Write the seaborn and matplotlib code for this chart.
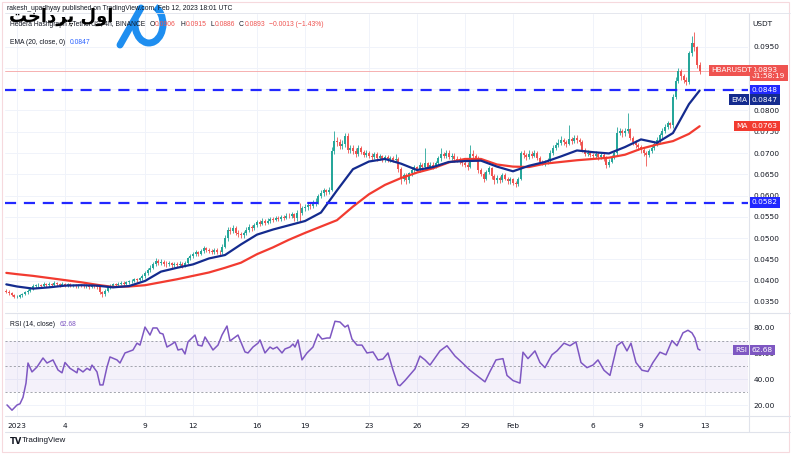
import numpy as np
import pandas as pd
import matplotlib
matplotlib.use("Agg")
import matplotlib.pyplot as plt
import matplotlib.dates as mdates
from matplotlib.patches import Arc, Rectangle
import seaborn as sns

# HBAR / USDT, 4h candles, prices in units of 0.0001 USDT
first_open = 376
closes = [
    374, 370, 366, 362,                 # Dec 31 (08h..20h)
    362, 365, 368, 372, 376, 380,       # Jan 1
    386, 389, 390, 387, 391, 389,       # Jan 2
    392, 390, 394, 391, 389, 392,       # Jan 3
    389, 391, 388, 390, 387, 389,       # Jan 4
    388, 386, 389, 385, 387, 386,       # Jan 5
    384, 372, 368, 376, 384, 388,       # Jan 6
    391, 389, 393, 395, 392, 396,       # Jan 7
    398, 400, 403, 401, 405, 410,       # Jan 8
    418, 425, 430, 438, 445, 442,       # Jan 9
    444, 440, 438, 441, 436, 439,       # Jan 10
    437, 440, 435, 442, 452, 458,       # Jan 11
    462, 466, 463, 470, 476, 472,       # Jan 12
    470, 467, 472, 468, 466, 480,       # Jan 13
    500, 520, 516, 524, 513, 509,       # Jan 14
    506, 512, 520, 526, 523, 530,       # Jan 15
    538, 534, 541, 536, 540, 544,       # Jan 16
    542, 547, 545, 550, 548, 553,       # Jan 17
    551, 556, 546, 560, 558, 570,       # Jan 18
    572, 578, 575, 582, 585, 598,       # Jan 19
    606, 612, 609, 614, 705, 728,       # Jan 20
    726, 717, 722, 740, 706, 712,       # Jan 21
    705, 698, 712, 702, 696, 700,       # Jan 22
    694, 690, 697, 688, 692, 686,       # Jan 23
    690, 685, 688, 684, 686, 662,       # Jan 24
    640, 648, 636, 652, 660, 666,       # Jan 25
    662, 672, 666, 676, 668, 672,       # Jan 26
    670, 676, 688, 698, 693, 700,       # Jan 27
    690, 694, 686, 684, 680, 676,       # Jan 28
    672, 668, 698, 694, 688, 660,       # Jan 29
    650, 640, 655, 665, 645, 636,       # Jan 30
    642, 636, 648, 640, 634, 638,       # Jan 31
    630, 626, 640, 700, 696, 690,       # Feb 1
    698, 694, 700, 688, 680, 676,       # Feb 2
    678, 682, 700, 712, 720, 724,       # Feb 3
    730, 726, 722, 734, 728, 736,       # Feb 4
    730, 725, 708, 698, 700, 695,       # Feb 5
    692, 698, 690, 696, 688, 672,       # Feb 6
    680, 690, 700, 748, 752, 746,       # Feb 7
    752, 756, 736, 726, 718, 714,       # Feb 8
    706, 700, 696, 704, 712, 722,       # Feb 9
    730, 742, 752, 761, 770, 765,       # Feb 10
    832, 870, 892, 880, 872, 866,       # Feb 11
    935, 958, 950, 906, 893,            # Feb 12 (00h..16h)
]
highs = [
    380, 377, 372, 369,
    366, 368, 371, 375, 379, 384,
    391, 393, 395, 393, 396, 394,
    396, 395, 398, 397, 394, 396,
    395, 394, 394, 393, 393, 392,
    392, 391, 392, 392, 390, 390,
    389, 387, 375, 379, 387, 392,
    395, 394, 397, 399, 398, 400,
    402, 404, 407, 406, 409, 415,
    423, 430, 436, 444, 452, 450,
    450, 448, 445, 446, 444, 443,
    443, 445, 443, 446, 456, 463,
    467, 471, 470, 475, 482, 479,
    477, 475, 477, 476, 472, 485,
    506, 527, 526, 531, 528, 518,
    515, 517, 525, 532, 531, 535,
    543, 542, 546, 545, 546, 550,
    549, 552, 551, 555, 554, 558,
    558, 561, 560, 566, 582, 576,
    580, 585, 583, 590, 593, 603,
    612, 618, 616, 620, 715, 752,
    738, 733, 730, 746, 748, 720,
    718, 712, 718, 716, 706, 707,
    704, 700, 702, 702, 698, 696,
    696, 695, 694, 692, 698, 690,
    666, 654, 652, 656, 665, 672,
    670, 678, 676, 712, 680, 678,
    678, 682, 694, 712, 703, 706,
    706, 700, 699, 692, 690, 686,
    682, 678, 718, 706, 698, 692,
    664, 656, 660, 670, 668, 650,
    648, 646, 652, 652, 644, 643,
    642, 634, 644, 705, 706, 700,
    706, 704, 706, 704, 692, 684,
    684, 688, 706, 718, 726, 732,
    740, 736, 730, 765, 738, 742,
    742, 736, 730, 712, 706, 704,
    700, 704, 702, 702, 700, 692,
    686, 696, 706, 762, 758, 756,
    760, 793, 760, 740, 730, 724,
    718, 712, 704, 710, 718, 728,
    738, 748, 758, 768, 776, 774,
    838, 878, 900, 898, 886, 878,
    940, 975, 984, 952, 915,
]
lows = [
    371, 366, 363, 358,
    358, 359, 362, 365, 369, 373,
    377, 383, 385, 383, 384, 385,
    385, 386, 387, 387, 385, 386,
    385, 385, 384, 384, 383, 383,
    384, 382, 383, 381, 382, 382,
    380, 368, 362, 364, 372, 380,
    385, 385, 386, 389, 388, 389,
    392, 394, 396, 397, 398, 401,
    406, 414, 420, 426, 434, 436,
    436, 435, 432, 434, 430, 432,
    432, 433, 430, 431, 438, 448,
    453, 457, 458, 459, 465, 467,
    465, 462, 463, 463, 460, 462,
    476, 494, 510, 511, 508, 503,
    500, 501, 507, 515, 517, 518,
    525, 528, 530, 531, 532, 535,
    537, 539, 540, 541, 543, 544,
    546, 546, 540, 541, 540, 554,
    564, 566, 568, 570, 576, 580,
    594, 600, 602, 603, 610, 698,
    716, 710, 710, 715, 700, 700,
    698, 690, 694, 697, 690, 690,
    688, 683, 686, 682, 684, 680,
    680, 680, 679, 678, 680, 655,
    628, 634, 626, 630, 645, 654,
    655, 656, 660, 660, 662, 662,
    663, 664, 670, 682, 688, 688,
    685, 684, 680, 678, 674, 670,
    666, 660, 664, 688, 682, 652,
    645, 632, 636, 650, 640, 628,
    630, 630, 632, 636, 628, 628,
    624, 620, 622, 636, 688, 684,
    686, 688, 690, 684, 676, 672,
    670, 674, 678, 696, 706, 714,
    720, 720, 714, 718, 722, 724,
    724, 720, 702, 692, 692, 690,
    686, 688, 684, 686, 682, 665,
    668, 676, 686, 696, 742, 738,
    740, 746, 730, 718, 712, 706,
    700, 694, 670, 690, 700, 706,
    716, 724, 736, 746, 756, 758,
    760, 826, 864, 872, 864, 860,
    862, 928, 940, 900, 886,
]

# EMA(20) and MA(50), read once a day (Dec 31 08h, Jan 1 .. Feb 12, Feb 12 16h)
ema20 = [391, 386, 381, 384, 388, 389, 388, 384, 387, 399, 421, 430, 438, 452, 460,
         485, 508, 520, 530, 540, 560, 612, 662, 680, 686, 675, 660, 667, 679, 681,
         682, 668, 657, 670, 679, 692, 706, 702, 699, 714, 732, 724, 747, 815, 847]
ma50 = [418, 415, 411, 406, 401, 396, 390, 385, 386, 389, 396, 403, 411, 419, 430,
        442, 462, 478, 496, 512, 527, 542, 574, 603, 625, 641, 654, 664, 678, 686,
        686, 673, 668, 667, 675, 679, 683, 686, 689, 696, 710, 720, 728, 745, 763]

# RSI(14): hours after 2023-01-01 00:00 and value
rsi_hours = [-15, -7.5, 0, 4.5, 9, 13.5, 16.5, 22.5, 30, 39, 45, 54, 61.5, 67.5, 72,
             79.5, 84, 90, 91.5, 99, 105, 109.5, 112.5, 120, 124.5, 129, 135, 139.5,
             150, 154.5, 162, 174, 180, 184.5, 192, 199.5, 204, 210, 214.5, 219, 225,
             232.5, 237, 241.5, 247.5, 252, 256.5, 267, 271.5, 277.5, 282, 286.5, 294,
             301.5, 307.5, 315, 319.5, 331.5, 334.5, 342, 346.5, 354, 361.5, 364.5,
             372, 379.5, 384, 390, 397.5, 402, 409.5, 414, 417, 421.5, 427.5, 435,
             444, 451.5, 457.5, 465, 469.5, 477, 484.5, 492, 496.5, 502.5, 510,
             517.5, 525, 534, 541.5, 549, 556.5, 564, 571.5, 574.5, 582, 597, 604.5,
             612, 619.5, 634.5, 645, 657, 667.5, 679.5, 694.5, 702, 709.5, 718.5,
             729, 735, 744, 754.5, 759, 766.5, 777, 784.5, 792, 802.5, 810, 820.5,
             829.5, 838.5, 846, 855, 864, 871.5, 880.5, 889.5, 900, 907.5, 915, 921,
             928.5, 937.5, 946.5, 954, 964.5, 973.5, 982.5, 990, 999, 1006.5,
             1012.5, 1017, 1021.5, 1024.5]
rsi_vals = [20.1, 16, 20, 21, 26, 37, 52.6, 45.7, 49.5, 56.5, 52.6, 55, 47.2, 45, 53,
            48.5, 47, 45, 48.5, 45.7, 48.5, 47, 51, 45.7, 35.6, 35.6, 49.5, 57.3,
            55, 52.6, 60.4, 62.7, 68, 66.5, 80.5, 74.3, 79.8, 79.8, 75.8, 75.1, 65,
            67.3, 69, 62.7, 63.5, 59.6, 69, 74.3, 66.5, 65.8, 72.8, 69, 62.7,
            66.5, 74.3, 81.3, 69.7, 74.3, 70.5, 61.2, 60.4, 65, 68, 70.5,
            60.4, 65, 63.5, 65, 60.4, 63.5, 65, 67.3, 65, 70.5, 55, 60.4,
            65, 75.1, 71.2, 72, 72, 85, 84.4, 80.5, 82, 71.2, 66.5,
            66.5, 60.4, 61.2, 55, 55.7, 60.4, 47.2, 35.6, 35, 39, 48, 58,
            55, 51, 62, 66, 58, 53, 47, 41, 38, 46, 55,
            56, 43, 39, 37, 61, 56, 62, 53, 49, 59, 62, 68,
            66, 69, 53, 49, 51, 55, 47, 43, 66, 69, 62, 68,
            53, 47, 46, 53, 61, 59, 70, 66, 76, 78,
            76, 72, 63.5, 62.68]

support_levels = [0.0848, 0.0582]
last_price = 0.0893

tick_dates = ["2023-01-01", "2023-01-04", "2023-01-09", "2023-01-12", "2023-01-16",
              "2023-01-19", "2023-01-23", "2023-01-26", "2023-01-29", "2023-02-01",
              "2023-02-06", "2023-02-09", "2023-02-13"]
tick_labels = ["2023", "4", "9", "12", "16", "19", "23", "26", "29", "Feb", "6", "9", "13"]

ohlc_letters = ["O", "H", "L", "C"]
ohlc_values = ["0.0906", "0.0915", "0.0886", "0.0893"]

# ---- prepare
c = np.array(closes) * 1e-4
o = np.r_[first_open, closes[:-1]] * 1e-4
hi = np.array(highs) * 1e-4
lo = np.array(lows) * 1e-4
t = mdates.date2num(pd.date_range("2022-12-31 08:00", periods=len(closes), freq="4h"))
ind_times = ([pd.Timestamp("2022-12-31 08:00")]
             + list(pd.date_range("2023-01-01", "2023-02-12", freq="D"))
             + [pd.Timestamp("2023-02-12 16:00")])
ind_t = mdates.date2num(ind_times)
rsi_t = mdates.date2num(pd.Timestamp("2023-01-01") + pd.to_timedelta(rsi_hours, unit="h"))
ticks = mdates.date2num(pd.to_datetime(tick_dates))

sns.set_style("white")
plt.rcParams["font.family"] = ["DejaVu Sans"]
HFONT = ["Liberation Sans", "DejaVu Sans"]

UP, DOWN = "#26a69a", "#ef5350"
EMA_C, MA_C = "#142b8e", "#f23b30"
LVL_C, RSI_C = "#2228ff", "#7e57c2"
TXT = "#131722"
GRID = "#f0f3fa"

W, H = 792, 459
fig = plt.figure(figsize=(W / 100, H / 100), dpi=100)
ax = fig.add_axes([5 / W, 1 - 312 / H, 743 / W, 298 / H])
rx = fig.add_axes([5 / W, 1 - 416 / H, 743 / W, 103 / H])
x0 = mdates.date2num(pd.Timestamp("2023-01-01")) - 0.75
x1 = x0 + 46.44

# ---- price pane
cols = np.where(c >= o, UP, DOWN)
ax.vlines(t, lo, hi, colors=cols, linewidth=0.6, zorder=3)
ax.bar(t, np.maximum(np.abs(c - o), 0.00004), bottom=np.minimum(o, c), width=0.11,
       color=cols, linewidth=0, zorder=4)
sns.lineplot(x=ind_t, y=np.array(ma50) * 1e-4, ax=ax, color=MA_C, linewidth=1.6, zorder=5)
sns.lineplot(x=ind_t, y=np.array(ema20) * 1e-4, ax=ax, color=EMA_C, linewidth=1.6, zorder=6)
for lvl in support_levels:
    ax.axhline(lvl, color=LVL_C, linewidth=1.6, dashes=(5, 3.5), zorder=7)
ax.axhline(last_price, color="#f5a3a3", linewidth=0.6, zorder=2)

ax.set_xlim(x0, x1)
ax.set_ylim(0.0326, 0.1027)
pticks = np.arange(0.035, 0.0951, 0.005)
ax.set_yticks(pticks)
ax.set_yticklabels([f"{v:.4f}" for v in pticks])
ax.yaxis.tick_right()
ax.set_xticks(ticks)
ax.set_xticklabels([])
ax.tick_params(length=0, labelsize=5.3, labelcolor=TXT, pad=4)
ax.grid(color=GRID, linewidth=0.7)
ax.set_xlabel("")
ax.set_ylabel("")

# ---- RSI pane
rx.axhspan(30, 70, color=RSI_C, alpha=0.08, linewidth=0)
for lvl in (70, 50, 30):
    rx.axhline(lvl, color="#9598a1", linewidth=0.6, dashes=(2.5, 2.5))
sns.lineplot(x=rsi_t, y=rsi_vals, ax=rx, color=RSI_C, linewidth=1.1, zorder=5)
rx.set_xlim(x0, x1)
rx.set_ylim(11.5, 91.4)
rx.set_yticks([20, 40, 60, 80])
rx.set_yticklabels(["20.00", "40.00", "60.00", "80.00"])
rx.yaxis.tick_right()
rx.set_xticks(ticks)
rx.set_xticklabels(tick_labels)
rx.tick_params(length=0, labelsize=5.3, labelcolor=TXT, pad=4)
rx.tick_params(axis="x", pad=5)
rx.grid(color=GRID, linewidth=0.7)
rx.set_xlabel("")
rx.set_ylabel("")

for a in (ax, rx):
    for s in a.spines.values():
        s.set_visible(False)

# ---- overlay in pixel coordinates for frame, header and tags
ov = fig.add_axes([0, 0, 1, 1], zorder=10)
ov.set_xlim(0, W)
ov.set_ylim(H, 0)
ov.axis("off")

SEP = "#e0e3eb"
ov.add_patch(Rectangle((2, 2), 787, 450, fill=False, ec="#f6d9dd", lw=0.8))
ov.plot([5, 790], [13, 13], color=SEP, lw=0.6)
ov.plot([5, 790], [312.5, 312.5], color=SEP, lw=0.8)
ov.plot([5, 790], [416, 416], color=SEP, lw=0.8)
ov.plot([5, 790], [432, 432], color=SEP, lw=0.8)
ov.plot([748.5, 748.5], [13, 432], color=SEP, lw=0.8)


def tag(x, y, s, fc, ha="left", fs=5.3):
    ov.text(x, y, s, ha=ha, va="center", fontsize=fs, color="white", linespacing=1.1,
            bbox=dict(boxstyle="square,pad=0.3", fc=fc, ec="none"))


def after(prev, s, color, gap=0.0, fs=4.9):
    # text placed right after the previous one, on the same baseline
    return ov.annotate(s, xy=(1, 0), xycoords=prev, xytext=(gap, 0),
                       textcoords="offset points", ha="left", va="bottom",
                       fontsize=fs, color=color, family=HFONT)


tag(752, 73, "0.0893\n01:58:19", DOWN)
tag(711, 70.5, "HBARUSDT", DOWN)
tag(752, 90.5, "0.0848", LVL_C)
tag(731, 99.5, "EMA", EMA_C)
tag(752, 99.5, "0.0847", EMA_C)
tag(736, 126, "MA", MA_C)
tag(752, 126, "0.0763", MA_C)
tag(752, 202.5, "0.0582", LVL_C)
tag(735, 350, "RSI", RSI_C)
tag(752, 350, "62.68", RSI_C)
ov.text(752, 24, "USDT", fontsize=5.3, color=TXT, va="center")

# header
ov.text(7, 8, "rakesh_upadhyay published on TradingView.com, Feb 12, 2023 18:01 UTC",
        fontsize=4.9, color=TXT, va="center", family=HFONT)
prev = ov.text(10, 24, "Hedera Hashgraph / TetherUS, 4h, BINANCE", fontsize=4.9, color=TXT,
               va="center", family=HFONT)
for k, v in zip(ohlc_letters, ohlc_values):
    lt = after(prev, k, TXT, gap=3)
    prev = after(lt, v, DOWN, gap=0.3)
after(prev, "\u22120.0013 (\u22121.43%)", DOWN, gap=3)
e = ov.text(10, 42, "EMA (20, close, 0)", fontsize=4.9, color=TXT, va="center", family=HFONT)
after(e, "0.0847", "#2962ff", gap=3)
r = ov.text(10, 324, "RSI (14, close)", fontsize=4.9, color=TXT, va="center", family=HFONT)
after(r, "62.68", RSI_C, gap=3)

# watermark: اول پرداخت (presentation forms, visual order)
ov.text(9, 17, "\ufe96\ufea7\ufe8d\ufea9\ufeae\ufb58 \ufedd\ufeed\ufe8d", fontsize=13,
        fontweight="bold", color="black", va="center", ha="left")
ov.add_patch(Arc((149, 24), 28, 38, theta1=-70, theta2=200, lw=5, color="#1e8ef0"))
ov.plot([120, 141], [45, 8], color="#1e8ef0", lw=5, solid_capstyle="round")

# footer
ov.text(10, 441, "TV", fontsize=6, fontweight="bold", color=TXT, va="center")
ov.text(22, 441, "TradingView", fontsize=5.8, color=TXT, va="center", family=HFONT)

fig.savefig("out.png", dpi=100)
